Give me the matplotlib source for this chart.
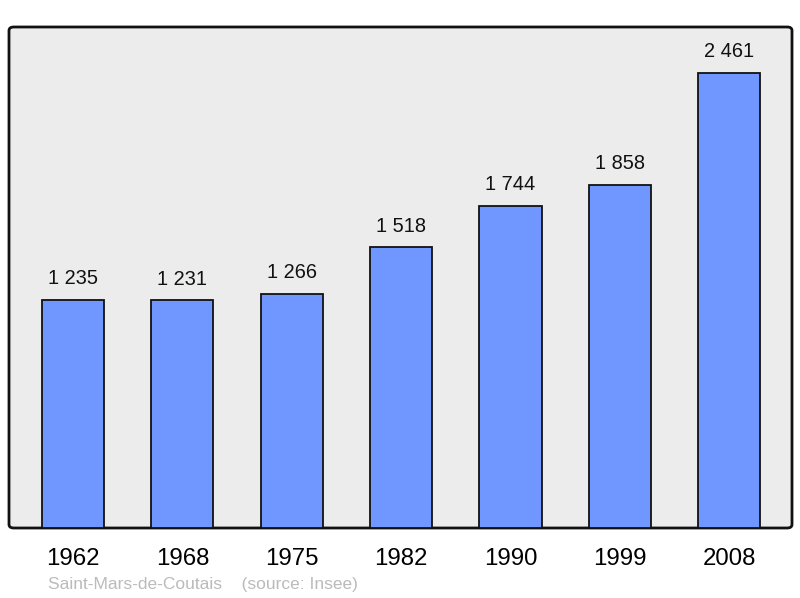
import matplotlib.pyplot as plt
from matplotlib.patches import FancyBboxPatch

years = ["1962", "1968", "1975", "1982", "1990", "1999", "2008"]
population = [1235, 1231, 1266, 1518, 1744, 1858, 2461]
labels = ["1 235", "1 231", "1 266", "1 518", "1 744", "1 858", "2 461"]

plt.rcParams['font.family'] = ['Liberation Sans', 'DejaVu Sans']

W, H = 800, 598
fig = plt.figure(figsize=(W / 100, H / 100), dpi=100)
ax = fig.add_axes([9 / W, 1 - 528 / H, (792 - 9) / W, (528 - 27) / H])
ax.set_facecolor('none')
ax.set_zorder(2)

# rounded frame behind the axes
frame = FancyBboxPatch((9 / W, 1 - 528 / H), (792 - 9) / W, (528 - 27) / H,
                       boxstyle="round,pad=0,rounding_size=0.006",
                       transform=fig.transFigure, facecolor='#ececec',
                       edgecolor='#111111', linewidth=2, zorder=-1)
fig.patches.append(frame)

x = list(range(len(years)))
ax.bar(x, population, width=0.57, color='#7097ff', edgecolor='#111111',
       linewidth=1.3, zorder=2)
for xi, v, lab in zip(x, population, labels):
    ax.annotate(lab, (xi, v), xytext=(0, 8.5), textcoords='offset points',
                ha='center', va='bottom', fontsize=14.4, color='#111111')

ax.set_xlim(-0.585, 6.575)
ax.set_ylim(0, 2710)
for s in ax.spines.values():
    s.set_visible(False)
ax.set_yticks([])
ax.set_xticks(x)
ax.set_xticklabels(years, fontsize=17.3)
ax.tick_params(axis='x', length=0, pad=14.5)

fig.text(48 / W, 1 - 584 / H, "Saint-Mars-de-Coutais    (source: Insee)",
         fontsize=12.5, color='#bbbbbb', va='center', ha='left')

fig.savefig("out.png", dpi=100)
